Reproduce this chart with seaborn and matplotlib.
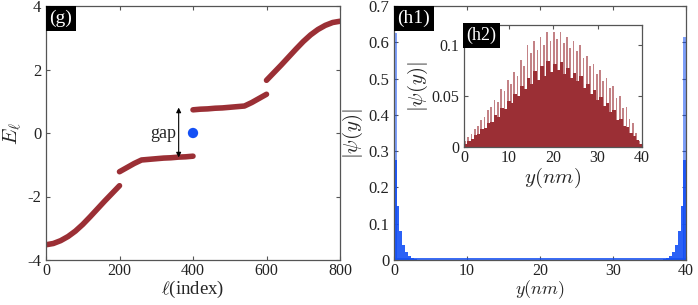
import numpy as np
import pandas as pd
import matplotlib
matplotlib.use("Agg")
import matplotlib.pyplot as plt
import seaborn as sns

# ---------------- data ----------------
# (g) energies, sampled every 20 indices per band segment
idx_seg1 = [0, 20, 40, 60, 80, 100, 120, 140, 160, 180, 200]
E_seg1 = [-3.52, -3.48, -3.39, -3.26, -3.09, -2.88, -2.64, -2.39, -2.14, -1.90, -1.66]
idx_seg2 = [200, 220, 240, 260, 280, 300, 320, 340, 360, 380, 400]
E_seg2 = [-1.22, -1.09, -0.96, -0.85, -0.83, -0.81, -0.79, -0.78, -0.76, -0.75, -0.73]
idx_seg3 = [400, 420, 440, 460, 480, 500, 520, 540, 560, 580, 600]
E_seg3 = [0.73, 0.75, 0.76, 0.78, 0.79, 0.81, 0.83, 0.85, 0.96, 1.09, 1.22]
idx_seg4 = [600, 620, 640, 660, 680, 700, 720, 740, 760, 780, 800]
E_seg4 = [1.66, 1.90, 2.14, 2.39, 2.64, 2.88, 3.09, 3.26, 3.39, 3.48, 3.52]
zero_mode_idx = [400]
zero_mode_E = [0.0]

# (h1) edge-state amplitude |psi(y)| (only non-negligible sites listed)
h1_peak_y = [0.2, 39.8]
h1_peak_psi = [0.625, 0.615]
h1_y = [0.2, 0.5, 0.9, 1.3, 1.7, 2.1, 2.5, 2.9,
        37.1, 37.5, 37.9, 38.3, 38.7, 39.1, 39.5, 39.8]
h1_psi = [0.275, 0.148, 0.080, 0.042, 0.022, 0.011, 0.006, 0.003,
          0.003, 0.006, 0.011, 0.021, 0.042, 0.080, 0.148, 0.275]

# (h2) bulk-state amplitude: tall sites and low sites alternating
h2_hi = [0.006, 0.010, 0.013, 0.018, 0.021, 0.027, 0.030, 0.036, 0.039, 0.046,
         0.044, 0.057, 0.055, 0.066, 0.062, 0.074, 0.070, 0.086, 0.080, 0.100,
         0.092, 0.104, 0.095, 0.108, 0.100, 0.113, 0.104, 0.113, 0.106, 0.113,
         0.102, 0.108, 0.097, 0.104, 0.094, 0.100, 0.088, 0.090, 0.080, 0.082,
         0.072, 0.076, 0.065, 0.068, 0.058, 0.060, 0.048, 0.050, 0.038, 0.039,
         0.028, 0.024, 0.014, 0.006]
h2_lo = [0.003, 0.006, 0.008, 0.012, 0.013, 0.018, 0.019, 0.024, 0.025, 0.031,
         0.030, 0.038, 0.037, 0.045, 0.043, 0.052, 0.050, 0.060, 0.057, 0.068,
         0.062, 0.075, 0.066, 0.080, 0.070, 0.085, 0.074, 0.082, 0.076, 0.084,
         0.072, 0.078, 0.068, 0.073, 0.065, 0.070, 0.058, 0.062, 0.052, 0.056,
         0.046, 0.049, 0.040, 0.043, 0.034, 0.036, 0.027, 0.028, 0.021, 0.020,
         0.014, 0.011, 0.007, 0.003]

# ---------------- style ----------------
sns.set_style("ticks")
plt.rcParams.update({
    "font.family": ["Liberation Serif", "DejaVu Serif"],
    "mathtext.fontset": "cm",
    "axes.unicode_minus": False,
    "xtick.direction": "in",
    "ytick.direction": "in",
    "xtick.top": True,
    "ytick.right": True,
    "axes.edgecolor": "#555555",
    "axes.linewidth": 0.9,
    "xtick.color": "#555555",
    "ytick.color": "#555555",
    "xtick.labelcolor": "#222222",
    "ytick.labelcolor": "#222222",
    "xtick.major.size": 3,
    "ytick.major.size": 3,
    "xtick.major.pad": 2.0,
})

RED = "#9b2f35"
BLUE = "#1450f5"

fig = plt.figure(figsize=(6.98, 3.05), dpi=100)
axg = fig.add_axes([46 / 698, 45 / 305, 294 / 698, 254 / 305])
axh = fig.add_axes([394 / 698, 45 / 305, 292 / 698, 254 / 305])
axi = fig.add_axes([464 / 698, 158 / 305, 178 / 698, 122 / 305])

box = dict(boxstyle="square,pad=0.2", fc="black", ec="none")

# ---------------- (g) ----------------
for ii, ee in [(idx_seg1, E_seg1), (idx_seg2, E_seg2), (idx_seg3, E_seg3), (idx_seg4, E_seg4)]:
    df = pd.DataFrame({"l": ii, "E": ee})
    sns.lineplot(data=df, x="l", y="E", ax=axg, color=RED, lw=4.0,
                 solid_capstyle="round", sort=False)
sns.scatterplot(x=zero_mode_idx, y=zero_mode_E, ax=axg, color=BLUE, s=55,
                edgecolor="none", zorder=5)
axg.annotate("", xy=(361, 0.80), xytext=(361, -0.77),
             arrowprops=dict(arrowstyle="<|-|>", color="k", lw=0.8,
                             mutation_scale=7, shrinkA=0, shrinkB=0))
axg.text(318, 0.0, "gap", ha="center", va="center", fontsize=13)
axg.set_xlim(0, 800)
axg.set_ylim(-4, 4)
axg.set_xticks([0, 200, 400, 600, 800])
axg.set_yticks([-4, -2, 0, 2, 4])
axg.set_xlabel(r"$\ell$(index)", fontsize=13.5, labelpad=0)
axg.set_ylabel(r"$E_\ell$", fontsize=15, labelpad=2)
axg.tick_params(axis="y", labelsize=12)
axg.tick_params(axis="x", labelsize=11.5)
axg.text(0.012, 0.985, "(g)", transform=axg.transAxes, ha="left", va="top",
         color="white", fontsize=14, bbox=box)

# ---------------- (h1) ----------------
axh.axhline(0.0015, color=BLUE, lw=1.2, zorder=1)
axh.bar(h1_peak_y, h1_peak_psi, width=0.4, color=BLUE, edgecolor="none", alpha=0.55)
axh.bar(h1_y, h1_psi, width=0.4, color=BLUE, edgecolor="none", alpha=0.9)
axh.set_xlim(0, 40)
axh.set_ylim(0, 0.7)
axh.set_xticks([0, 10, 20, 30, 40])
axh.set_yticks([0, 0.1, 0.2, 0.3, 0.4, 0.5, 0.6, 0.7])
axh.set_yticklabels(["0", "0.1", "0.2", "0.3", "0.4", "0.5", "0.6", "0.7"])
axh.set_xlabel(r"$y(nm)$", fontsize=13, labelpad=0)
axh.set_ylabel(r"$|\psi(y)|$", fontsize=15, labelpad=2)
axh.tick_params(axis="y", labelsize=12)
axh.tick_params(axis="x", labelsize=11.5)
axh.text(0.012, 0.985, "(h1)", transform=axh.transAxes, ha="left", va="top",
         color="white", fontsize=14, bbox=box)

# ---------------- (h2) inset ----------------
n = len(h2_hi)
step = 40 / n
pos_hi = [(k + 0.25) * step for k in range(n)]
pos_lo = [(k + 0.75) * step for k in range(n)]
axi.bar(pos_hi, h2_hi, width=step * 0.5, color=RED, edgecolor="none", alpha=0.6)
axi.bar(pos_lo, h2_lo, width=step * 0.75, color=RED, edgecolor="none")
axi.bar(pos_hi, h2_lo, width=step * 0.5, color=RED, edgecolor="none")
axi.set_xlim(0, 40)
axi.set_ylim(0, 0.12)
axi.set_xticks([0, 10, 20, 30, 40])
axi.set_yticks([0, 0.05, 0.1])
axi.set_yticklabels(["0", "0.05", "0.1"])
axi.set_xlabel(r"$y(nm)$", fontsize=15, labelpad=0)
axi.set_ylabel(r"$|\psi(y)|$", fontsize=15, labelpad=1)
axi.tick_params(labelsize=11.5)
axi.text(0.012, 0.985, "(h2)", transform=axi.transAxes, ha="left", va="top",
         color="white", fontsize=13, bbox=box)

fig.savefig("out.png", dpi=100)
